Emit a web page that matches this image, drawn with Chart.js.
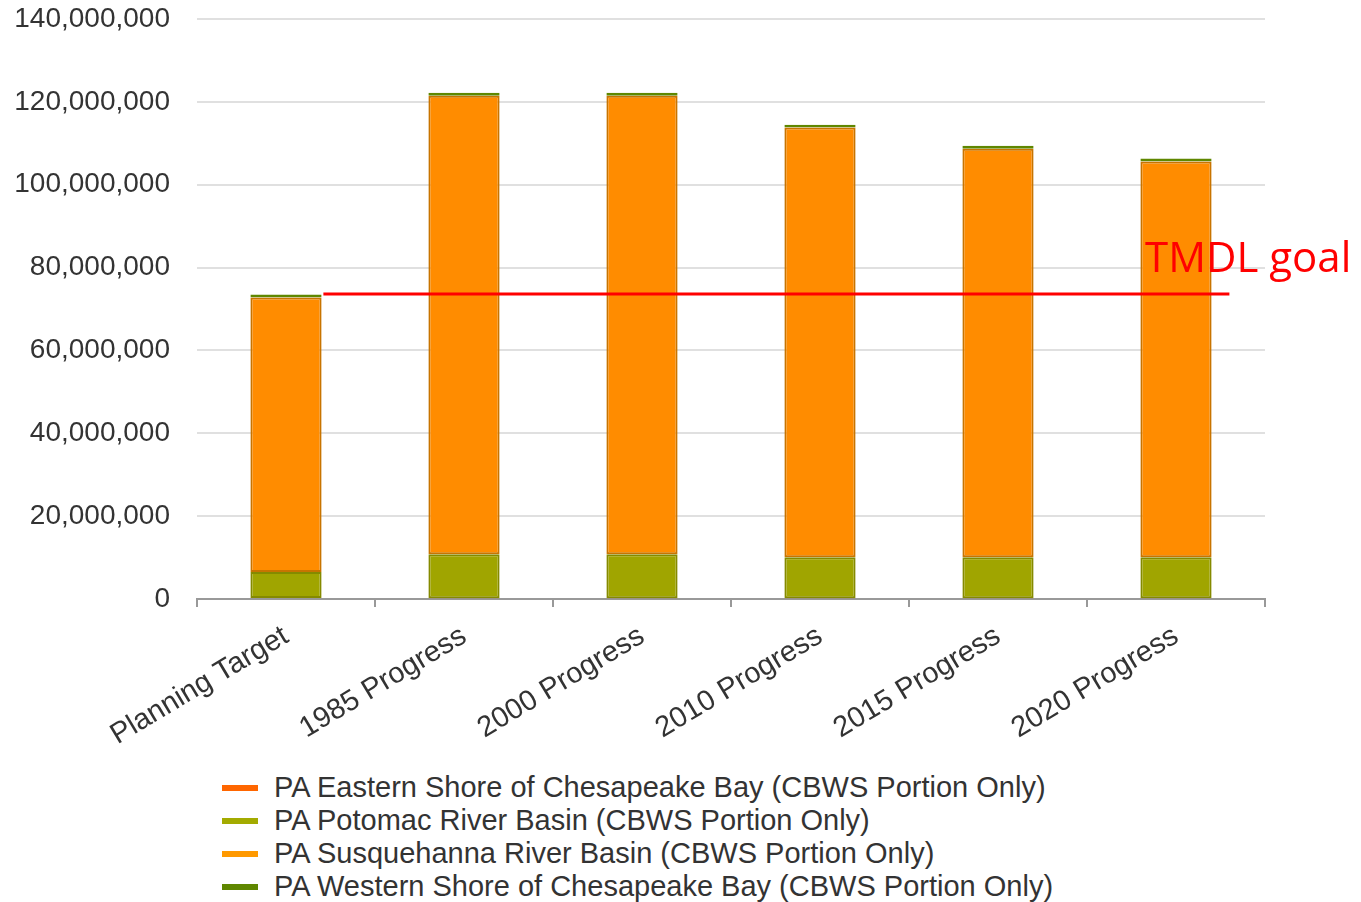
<!DOCTYPE html>
<html>
<head>
<meta charset="utf-8">
<script src="https://cdn.jsdelivr.net/npm/chart.js@4.4.1/dist/chart.umd.min.js"></script>
<style>
  html, body { margin: 0; padding: 0; background: #fff; }
  #wrap { position: relative; width: 1361px; height: 760px; }
  #legend {
    position: absolute; left: 222px; top: 771px;
    font-family: "Liberation Sans", Arial, sans-serif; font-size: 29px; color: #333;
  }
  #legend .row { display: flex; align-items: center; height: 33px; }
  #legend .sw { width: 36px; height: 6px; margin-right: 16px; }
</style>
</head>
<body>
<div id="wrap"><canvas id="chart"></canvas></div>
<div id="legend"></div>
<script>
const categories = ["Planning Target", "1985 Progress", "2000 Progress", "2010 Progress", "2015 Progress", "2020 Progress"];

// loads in lbs
const easternShore = [0, 200000, 200000, 200000, 200000, 200000];
const potomac = [6500000, 10600000, 10600000, 9900000, 9900000, 9900000];
const susquehanna = [66300000, 110700000, 110700000, 103700000, 98600000, 95500000];
const westernShore = [700000, 700000, 700000, 700000, 700000, 700000];

const tmdlGoal = 73600000;
const tmdlSpan = [0.21, 5.3];

const fontFamily = '"Liberation Sans", Arial, sans-serif';
const textColor = "#333";

const seriesNames = [
    "PA Eastern Shore of Chesapeake Bay (CBWS Portion Only)",
    "PA Potomac River Basin (CBWS Portion Only)",
    "PA Susquehanna River Basin (CBWS Portion Only)",
    "PA Western Shore of Chesapeake Bay (CBWS Portion Only)"
];
const legendColors = ["#ff6600", "#a3ab00", "#ff9900", "#5f8700"];

const barDataset = (label, data, fill, border) => ({
    type: "bar",
    label,
    data,
    backgroundColor: fill,
    borderColor: border,
    borderWidth: 2,
    borderSkipped: false,
    grouped: false,
    barPercentage: 0.4,
    categoryPercentage: 1,
    order: 1
});

const goalLabel = {
    id: "goalLabel",
    afterDatasetsDraw(chart) {
        const ctx = chart.ctx;
        const y = chart.scales.y.getPixelForValue(tmdlGoal);
        const x = chart.scales.xg.getPixelForValue(4.826);
        ctx.save();
        ctx.font = '42px "Open Sans", "Noto Sans", sans-serif';
        ctx.fillStyle = "#ff0000";
        ctx.textAlign = "left";
        ctx.textBaseline = "alphabetic";
        ctx.fillText("TMDL goal", x, y - 22);
        ctx.restore();
    }
};

const ctx = document.getElementById("chart").getContext("2d");
const chart = new Chart(ctx, {
    data: {
        labels: categories,
        datasets: [
            barDataset(seriesNames[0], easternShore, "#ff6600", "#e05a00"),
            barDataset(seriesNames[1], potomac, "#a0a500", "#858a00"),
            barDataset(seriesNames[2], susquehanna, "#ff8c00", "#c87400"),
            barDataset(seriesNames[3], westernShore, "#5f8700", "#5f8700"),
            {
                type: "line",
                label: "TMDL goal",
                xAxisID: "xg",
                data: [{ x: tmdlSpan[0], y: tmdlGoal }, { x: tmdlSpan[1], y: tmdlGoal }],
                borderColor: "#ff0000",
                borderWidth: 3,
                pointRadius: 0,
                order: 0
            }
        ]
    },
    options: {
        responsive: true,
        maintainAspectRatio: false,
        animation: false,
        layout: { padding: { top: 19, right: 96, bottom: 0, left: 0 } },
        plugins: {
            legend: { display: false },
            tooltip: { enabled: false }
        },
        scales: {
            x: {
                stacked: true,
                offset: true,
                afterFit: (scale) => { scale.height = 161; scale.paddingLeft = 0; },
                grid: {
                    drawOnChartArea: false,
                    drawTicks: true,
                    tickLength: 8,
                    color: "#999",
                    lineWidth: 2,
                    offset: true
                },
                border: { display: true, color: "#999", width: 2 },
                ticks: {
                    color: textColor,
                    font: { family: fontFamily, size: 29 },
                    maxRotation: 31,
                    minRotation: 31,
                    padding: 12
                }
            },
            xg: {
                type: "linear",
                display: false,
                min: -0.5,
                max: 5.5
            },
            y: {
                stacked: true,
                min: 0,
                max: 140000000,
                afterFit: (scale) => { scale.width = 197; scale.paddingTop = 0; scale.paddingBottom = 0; },
                grid: { color: "#e0e0e0", lineWidth: 2, drawTicks: false },
                border: { display: false },
                ticks: {
                    stepSize: 20000000,
                    padding: 27,
                    color: textColor,
                    font: { family: fontFamily, size: 28 },
                    callback: (value) => value.toLocaleString("en-US")
                }
            }
        }
    },
    plugins: [goalLabel]
});

const legend = document.getElementById("legend");
seriesNames.forEach((name, i) => {
    const row = document.createElement("div");
    row.className = "row";
    const sw = document.createElement("span");
    sw.className = "sw";
    sw.style.background = legendColors[i];
    const txt = document.createElement("span");
    txt.textContent = name;
    row.appendChild(sw);
    row.appendChild(txt);
    legend.appendChild(row);
});
</script>
</body>
</html>
